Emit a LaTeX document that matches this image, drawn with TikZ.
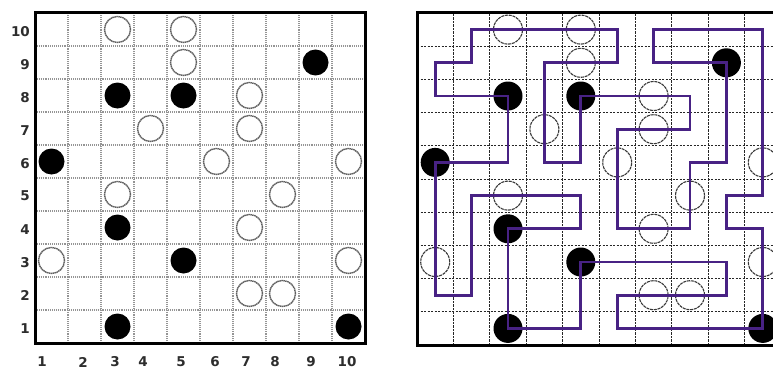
\documentclass[tikz,border=0pt]{standalone}
\usepackage{fontspec}
\setmainfont{DejaVu Sans}
\definecolor{loopcol}{RGB}{72,34,132}
\definecolor{labelcol}{RGB}{45,45,45}
\tikzset{
  frameline/.style={line width=3pt, draw=black},
  lgrid/.style={draw=black!42, line width=1.6pt, dash pattern=on 1pt off 0.9pt},
  rgrid/.style={draw=black!85, line width=0.9pt, dash pattern=on 2.2pt off 1.3pt},
  lwhite/.style={circle, draw=black!62, line width=1.4pt, dash pattern=on 1.5pt off 0.5pt, fill=white, minimum size=26pt, inner sep=0pt},
  lblack/.style={circle, fill=black, minimum size=26pt, inner sep=0pt},
  rwhite/.style={circle, draw=black!78, line width=1.1pt, dash pattern=on 3pt off 0.8pt, minimum size=29pt, inner sep=0pt},
  rblack/.style={circle, fill=black, minimum size=29pt, inner sep=0pt},
  lbl/.style={font=\bfseries\fontsize{13.5}{14}\selectfont, text=labelcol, inner sep=0pt},
  solution/.style={draw=loopcol, line width=2.8pt, line join=miter}
}
\begin{document}
\begin{tikzpicture}
\useasboundingbox (0,0) rectangle (773pt,-369pt);
\clip (0,0) rectangle (773pt,-369pt);
\fill[white] (0,0) rectangle (773pt,-369pt);

% ---------------- Left panel ----------------
\begin{scope}[shift={(18.5pt,-359.5pt)}, x=33pt, y=33pt]
  \foreach \k in {1.5,2.5,...,9.5} {
    \draw[lgrid] (\k,0.5) -- (\k,10.5);
    \draw[lgrid] (0.5,\k) -- (10.5,\k);
  }
  \draw[frameline] (0.5,0.5) rectangle (10.5,10.5);
  % white circles
  \foreach \c/\r [count=\i] in {3/10,5/10,5/9,7/8,4/7,7/7,6/6,10/6,3/5,8/5,7/4,1/3,10/3,7/2,8/2}
    \node[lwhite] (lw\i) at (\c,\r) {};
  % black circles
  \foreach \c/\r [count=\i] in {9/9,3/8,5/8,1/6,3/4,5/3,3/1,10/1}
    \node[lblack] (lb\i) at (\c,\r) {};
  % row labels
  \foreach \r in {1,...,10}
    \node[lbl, anchor=east] (row\r) at (0.35,\r-0.05) {\r};
\end{scope}
% column labels
\foreach \x/\n in {42/1,83/2,115/3,143/4,181/5,215/6,246/7,275/8,311/9,347/10}
  \node[lbl] (col\n) at (\x pt,-362pt) {\n};

% ---------------- Right panel ----------------
\begin{scope}[shift={(398.8pt,-361.6pt)}, x=36.4pt, y=33.2pt]
  \foreach \k in {1.5,2.5,...,9.5} {
    \draw[rgrid] (\k,0.5) -- (\k,10.5);
    \draw[rgrid] (0.5,\k) -- (10.5,\k);
  }
  \draw[frameline] (0.5,0.5) rectangle (10.5,10.5);
  \foreach \c/\r [count=\i] in {3/10,5/10,5/9,7/8,4/7,7/7,6/6,10/6,3/5,8/5,7/4,1/3,10/3,7/2,8/2}
    \node[rwhite] (rw\i) at (\c,\r) {};
  \foreach \c/\r [count=\i] in {9/9,3/8,5/8,1/6,3/4,5/3,3/1,10/1}
    \node[rblack] (rb\i) at (\c,\r) {};
  % solution loop
  \draw[solution] (2,10) -- (6,10) -- (6,9) -- (4,9) -- (4,6) -- (5,6) -- (5,8)
    -- (8,8) -- (8,7) -- (6,7) -- (6,4) -- (8,4) -- (8,6) -- (9,6) -- (9,9)
    -- (7,9) -- (7,10) -- (10,10) -- (10,5) -- (9,5) -- (9,4) -- (10,4)
    -- (10,1) -- (6,1) -- (6,2) -- (9,2) -- (9,3) -- (5,3) -- (5,1) -- (3,1)
    -- (3,4) -- (5,4) -- (5,5) -- (2,5) -- (2,2) -- (1,2) -- (1,6) -- (3,6)
    -- (3,8) -- (1,8) -- (1,9) -- (2,9) -- cycle;
\end{scope}
\end{tikzpicture}
\end{document}
